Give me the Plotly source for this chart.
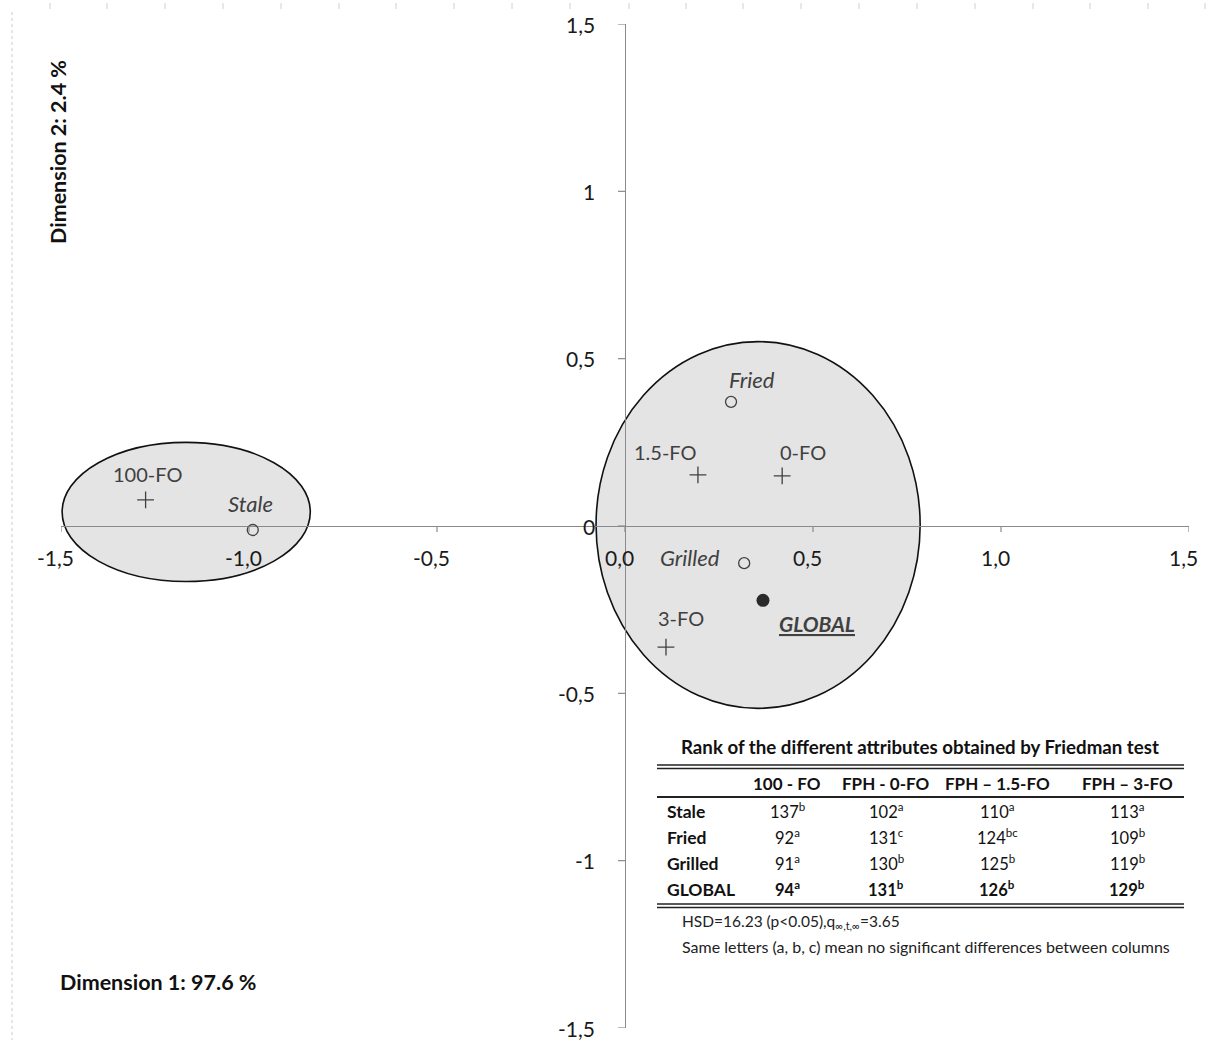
import plotly.graph_objects as go

# ---------------- data ----------------
sample_names = ["100-FO", "1.5-FO", "0-FO", "3-FO"]
sample_x = [-1.275, 0.194, 0.418, 0.109]
sample_y = [0.078, 0.153, 0.150, -0.362]

attr_names = ["Stale", "Fried", "Grilled"]
attr_x = [-0.99, 0.282, 0.317]
attr_y = [-0.012, 0.371, -0.111]

global_name = "GLOBAL"
global_x = [0.367]
global_y = [-0.222]

# ellipses (center x, center y, semi-axis x, semi-axis y)
ellipse_cx = [-1.167, 0.354]
ellipse_cy = [0.042, 0.003]
ellipse_rx = [0.330, 0.431]
ellipse_ry = [0.208, 0.548]

x_ticks = [-1.5, -1.0, -0.5, 0.0, 0.5, 1.0, 1.5]
x_tick_labels = ["-1,5", "-1,0", "-0,5", "0,0", "0,5", "1,0", "1,5"]
y_ticks = [-1.5, -1.0, -0.5, 0.0, 0.5, 1.0, 1.5]
y_tick_labels = ["-1,5", "-1", "-0,5", "0", "0,5", "1", "1,5"]

table_title = "Rank of the different attributes obtained by Friedman test"
table_cols = ["100 - FO", "FPH - 0-FO", "FPH \u2013 1.5-FO", "FPH \u2013 3-FO"]
table_rows = ["Stale", "Fried", "Grilled", "GLOBAL"]
table_values = [[137, 102, 110, 113],
                [92, 131, 124, 109],
                [91, 130, 125, 119],
                [94, 131, 126, 129]]
table_letters = [["b", "a", "a", "a"],
                 ["a", "c", "bc", "b"],
                 ["a", "b", "b", "b"],
                 ["a", "b", "b", "b"]]
note1 = "HSD=16.23 (p<0.05),q<sub>\u221e,t,\u221e</sub>=3.65"
note2 = "Same letters (a, b, c) mean no significant differences between columns"

# ---------------- layout geometry ----------------
W, H = 1208, 1046
ML, MR, MT, MB = 61, 19, 24, 18
FONT = "Lato"
LABEL_COL = "#404040"
AXIS_COL = "#8a8a8a"


def px(xp):
    return (xp - ML) / (W - ML - MR)


def py(yp):
    return (H - MB - yp) / (H - MT - MB)


fig = go.Figure()
shapes = []
ann = []


def pann(xp, yp, text, size, xanchor="center", color="#111111", **kw):
    ann.append(dict(x=px(xp), y=py(yp), xref="paper", yref="paper", text=text,
                    showarrow=False, xanchor=xanchor, yanchor="middle",
                    font=dict(family=FONT, size=size, color=color), **kw))


# ellipses
for cx, cy, rx, ry in zip(ellipse_cx, ellipse_cy, ellipse_rx, ellipse_ry):
    shapes.append(dict(type="circle", xref="x", yref="y",
                       x0=cx - rx, x1=cx + rx, y0=cy - ry, y1=cy + ry,
                       fillcolor="#e4e4e4", line=dict(color="#111111", width=1.6),
                       layer="below"))

# traces
fig.add_trace(go.Scatter(x=sample_x, y=sample_y, mode="markers",
                         marker=dict(symbol="cross-thin", size=12, color=LABEL_COL,
                                     line=dict(color=LABEL_COL, width=1.3)),
                         hoverinfo="skip", showlegend=False))
fig.add_trace(go.Scatter(x=attr_x, y=attr_y, mode="markers",
                         marker=dict(symbol="circle-open", size=11, color=LABEL_COL,
                                     line=dict(color=LABEL_COL, width=1.3)),
                         hoverinfo="skip", showlegend=False))
fig.add_trace(go.Scatter(x=global_x, y=global_y, mode="markers",
                         marker=dict(symbol="circle", size=13, color="#2a2a2a"),
                         hoverinfo="skip", showlegend=False))

# point labels (offsets in pixels)
sample_off = {"100-FO": (2, 26), "1.5-FO": (-32, 23), "0-FO": (21, 24), "3-FO": (15, 29)}
for n, x, y in zip(sample_names, sample_x, sample_y):
    dx, dy = sample_off[n]
    ann.append(dict(x=x, y=y, xref="x", yref="y", text=n, showarrow=False,
                    xanchor="center", yanchor="middle",
                    xshift=dx, yshift=dy, font=dict(family=FONT, size=20, color=LABEL_COL)))
attr_off = {"Stale": (-2, 27), "Fried": (21, 22), "Grilled": (-54, 6)}
for n, x, y in zip(attr_names, attr_x, attr_y):
    dx, dy = attr_off[n]
    ann.append(dict(x=x, y=y, xref="x", yref="y", text="<i>%s</i>" % n, showarrow=False,
                    xanchor="center", yanchor="middle",
                    xshift=dx, yshift=dy, font=dict(family=FONT, size=22, color=LABEL_COL)))
ann.append(dict(x=global_x[0], y=global_y[0], xref="x", yref="y",
                text="<b><i><u>%s</u></i></b>" % global_name, showarrow=False,
                xanchor="center", yanchor="middle",
                xshift=54, yshift=-23, font=dict(family=FONT, size=21, color=LABEL_COL)))

# axis ticks and tick labels at the crossing axes
for v, t in zip(x_ticks, x_tick_labels):
    shapes.append(dict(type="line", xref="x", yref="y", ysizemode="pixel", yanchor=0,
                       x0=v, x1=v, y0=0, y1=-6, line=dict(color=AXIS_COL, width=1.2)))
    ann.append(dict(x=v, y=0, xref="x", yref="y", text=t, showarrow=False,
                    xanchor="center", yanchor="middle", yshift=-31, xshift=-6,
                    font=dict(family=FONT, size=21, color="#1a1a1a")))
for v, t in zip(y_ticks, y_tick_labels):
    shapes.append(dict(type="line", xref="x", yref="y", xsizemode="pixel", xanchor=0,
                       x0=0, x1=-7, y0=v, y1=v, line=dict(color=AXIS_COL, width=1.2)))
    ann.append(dict(x=0, y=v, xref="x", yref="y", text=t, showarrow=False,
                    xanchor="right", yanchor="middle", xshift=-28,
                    font=dict(family=FONT, size=21, color="#1a1a1a")))

# axis titles
pann(58, 152, "<b>Dimension 2: 2.4 %</b>", 21.5, textangle=-90)
pann(158, 982, "<b>Dimension 1: 97.6 %</b>", 21.5)

# ---------------- table ----------------
tx0, tx1 = 657, 1184
col_cx = [787, 886, 997, 1127]
row_y = [811, 837, 863, 889]
pann(920, 747, "<b>%s</b>" % table_title, 18.7)
for yy in (765, 768.5):
    shapes.append(dict(type="line", xref="paper", yref="paper", x0=px(tx0), x1=px(tx1),
                       y0=py(yy), y1=py(yy), line=dict(color="#222222", width=1.3)))
shapes.append(dict(type="line", xref="paper", yref="paper", x0=px(tx0), x1=px(tx1),
                   y0=py(797), y1=py(797), line=dict(color="#222222", width=1.8)))
for yy in (904, 907.5):
    shapes.append(dict(type="line", xref="paper", yref="paper", x0=px(tx0), x1=px(tx1),
                       y0=py(yy), y1=py(yy), line=dict(color="#222222", width=1.3)))
for c, cx in zip(table_cols, col_cx):
    pann(cx, 783, "<b>%s</b>" % c, 17)
for r, (rname, vals, lets) in enumerate(zip(table_rows, table_values, table_letters)):
    bold = rname == "GLOBAL"
    pann(665, row_y[r], "<b>%s</b>" % rname, 17.5, xanchor="left")
    for cx, v, l in zip(col_cx, vals, lets):
        txt = "%d<sup>%s</sup>" % (v, l)
        if bold:
            txt = "<b>%s</b>" % txt
        pann(cx, row_y[r], txt, 16.5)
pann(680, 922, note1, 15.5, xanchor="left", color="#222222")
pann(680, 946, note2, 16, xanchor="left", color="#222222")

# faint scan decorations (ruler ticks at top, dotted line at left)
ruler_x = [50, 107, 165, 223, 281, 339, 396, 454, 512, 570, 629, 686, 743, 801, 859,
           917, 975, 1033, 1090, 1148, 1205]
for rx in ruler_x:
    shapes.append(dict(type="line", xref="paper", yref="paper", x0=px(rx), x1=px(rx),
                       y0=py(3), y1=py(9), line=dict(color="#d0d0d0", width=1)))
shapes.append(dict(type="line", xref="paper", yref="paper", x0=px(12), x1=px(12),
                   y0=py(12), y1=py(1040), line=dict(color="#d4d4d4", width=1.2, dash="dot")))

fig.update_layout(
    width=W, height=H,
    margin=dict(l=ML, r=MR, t=MT, b=MB),
    paper_bgcolor="white", plot_bgcolor="white",
    shapes=shapes, annotations=ann,
    xaxis=dict(range=[-1.5, 1.5], showgrid=False, showticklabels=False, ticks="",
               zeroline=True, zerolinecolor=AXIS_COL, zerolinewidth=1.2, showline=False,
               fixedrange=True),
    yaxis=dict(range=[-1.5, 1.5], showgrid=False, showticklabels=False, ticks="",
               zeroline=True, zerolinecolor=AXIS_COL, zerolinewidth=1.2, showline=False,
               fixedrange=True),
    showlegend=False,
)

fig.write_html("out.html")
